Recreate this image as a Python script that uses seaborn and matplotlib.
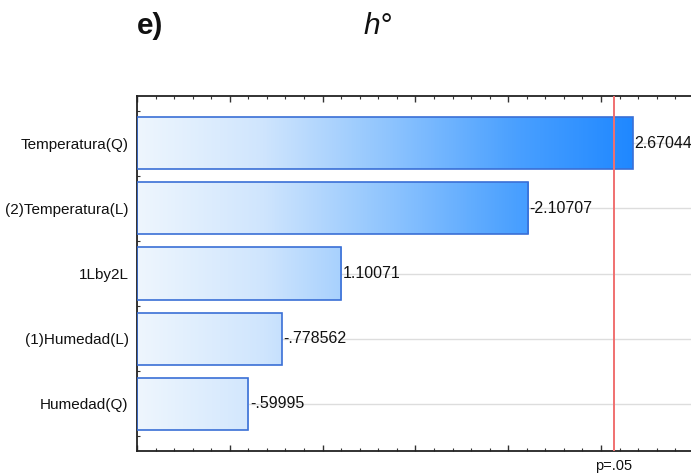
import numpy as np
import pandas as pd
import matplotlib
matplotlib.use("Agg")
import matplotlib.pyplot as plt
from matplotlib.colors import LinearSegmentedColormap
from matplotlib.ticker import MultipleLocator, FixedLocator
import seaborn as sns

# Standardized effects (Pareto chart of effects for h°)
factors = ["Temperatura(Q)", "(2)Temperatura(L)", "1Lby2L", "(1)Humedad(L)", "Humedad(Q)"]
effects = [2.67044, -2.10707, 1.10071, -0.778562, -0.59995]
p_critical = 2.5706  # t(0.975, df=5), p = .05

sns.set_theme(style="white")
plt.rcParams["font.family"] = ["Liberation Sans", "DejaVu Sans"]

df = pd.DataFrame({"factor": factors, "effect": effects})
df["abs_effect"] = df["effect"].abs()

fig = plt.figure(figsize=(6.91, 4.76), dpi=100)
ax = fig.add_axes([137 / 691, 25 / 476, (691 - 137) / 691, (451 - 96) / 476])

x_max = (691 - 137) / 185.6

# light gridlines at each factor
for i in range(len(factors)):
    ax.axhline(i, color="#dddddd", lw=1.0, zorder=0)

sns.barplot(data=df, x="abs_effect", y="factor", orient="h", ax=ax,
            width=0.8, color="#9ccbfd", edgecolor="#3a6fd6", linewidth=1.2,
            saturation=1, zorder=3)

# horizontal blue gradient filling each bar
cmap = LinearSegmentedColormap.from_list(
    "fx", ["#eef6fe", "#cfe5fd", "#8ec4fe", "#4aa0ff", "#1c86ff"])
grad = np.linspace(0, 1, 512).reshape(1, -1)
for patch in ax.patches:
    y0 = patch.get_y()
    h = patch.get_height()
    im = ax.imshow(grad, cmap=cmap, aspect="auto", extent=(0, 2.72, y0 + h, y0),
                   zorder=2, interpolation="bilinear")
    im.set_clip_path(patch)
    patch.set_facecolor("none")

ax.set_xlim(0, x_max)
ax.set_ylim(4.73, -0.73)

# value labels at bar ends
for i, v in enumerate(effects):
    s = f"{v:g}".replace("0.", ".", 1) if abs(v) < 1 else f"{v:g}"
    ax.text(abs(v) + 0.008, i, s, va="center", ha="left", fontsize=11.5,
            color="#111111", zorder=5)

# significance threshold
ax.axvline(p_critical, color="#f07070", lw=1.4, zorder=4)
ax.text(p_critical, -0.022, "p=.05", transform=ax.get_xaxis_transform(),
        ha="center", va="top", fontsize=10.5, color="#111111")

ax.set_xlabel("")
ax.set_ylabel("")
ax.xaxis.set_major_locator(MultipleLocator(0.5))
ax.xaxis.set_minor_locator(MultipleLocator(0.1))
ax.yaxis.set_major_locator(FixedLocator(range(len(factors))))
ax.set_yticklabels(factors)
ax.yaxis.set_minor_locator(MultipleLocator(0.25))
ax.tick_params(axis="x", which="both", direction="in", top=True, bottom=True,
               labelbottom=False, color="#333333")
ax.tick_params(axis="x", which="major", length=4, width=1)
ax.tick_params(axis="x", which="minor", length=2, width=0.8)
ax.tick_params(axis="y", which="both", direction="in", left=True, right=False,
               color="#333333")
ax.tick_params(axis="y", which="major", length=4, width=1.2, labelsize=11,
               pad=6, labelcolor="#111111")
ax.tick_params(axis="y", which="minor", length=2, width=0.8)

for side in ["left", "top", "bottom"]:
    ax.spines[side].set_color("#222222")
    ax.spines[side].set_linewidth(1.3)
ax.spines["right"].set_visible(False)

fig.text(137 / 691, 1 - 26.5 / 476, "e)", fontsize=21.5, fontweight="bold",
         ha="left", va="center", color="#111111")
fig.text(377.5 / 691, 1 - 26.5 / 476, "h°", fontsize=21.5, fontstyle="italic",
         ha="center", va="center", color="#111111")

fig.savefig("out.png", dpi=100)
